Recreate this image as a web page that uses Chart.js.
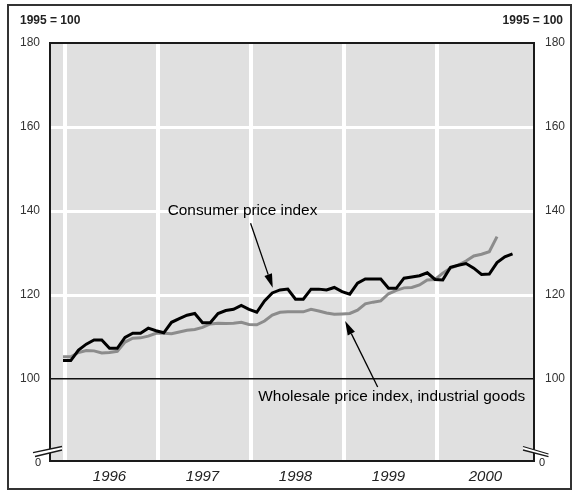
<!DOCTYPE html>
<html>
<head>
<meta charset="utf-8">
<script src="https://cdn.jsdelivr.net/npm/chart.js@4"></script>
<style>
  body { margin: 0; background: #fff; }
  canvas { display: block; }
</style>
</head>
<body>
<canvas id="myChart" width="575" height="491"></canvas>
<script>
// monthly index values, Jan 1996 onwards (1995 = 100)
const cpi = [104.4, 104.4, 106.9, 108.3, 109.3, 109.3, 107.3, 107.3, 109.9, 110.9,
  110.9, 112.1, 111.5, 111.0, 113.5, 114.4, 115.2, 115.6, 113.4, 113.4,
  115.6, 116.3, 116.6, 117.5, 116.6, 115.9, 118.6, 120.5, 121.2, 121.4,
  119.0, 119.0, 121.4, 121.4, 121.2, 121.8, 120.8, 120.2, 122.8, 123.8,
  123.8, 123.8, 121.6, 121.6, 124.0, 124.3, 124.6, 125.3, 123.7, 123.6,
  126.6, 127.1, 127.5, 126.4, 124.9, 125.0, 127.7, 129.1, 129.8]
const wpi = [105.3, 105.3, 106.3, 106.8, 106.7, 106.2, 106.3, 106.6, 108.8, 109.7,
  109.8, 110.2, 110.9, 110.9, 110.8, 111.2, 111.6, 111.8, 112.3, 113.1,
  113.3, 113.2, 113.3, 113.5, 113.0, 112.9, 113.8, 115.2, 115.9, 116.0,
  116.0, 116.0, 116.6, 116.2, 115.7, 115.4, 115.5, 115.6, 116.4, 117.9,
  118.3, 118.6, 120.3, 121.1, 121.7, 121.8, 122.4, 123.6, 123.7, 125.2,
  126.4, 127.1, 128.1, 129.3, 129.7, 130.3, 133.9]
const yearLabels = ['1996', '1997', '1998', '1999', '2000']
const yearStarts = [0, 12, 24, 36, 48]
const yTicks = [100, 120, 140, 160, 180]
const baseLabel = '1995 = 100'

const ctx = document.getElementById('myChart')
const FONT = "'Liberation Sans', Arial, Helvetica, sans-serif"
const xMin = -1.68, xMax = 60.77
const yMin = 80.48, yMax = 180

// labels with arrows, placed in data coordinates
const notes = [
  { text: 'Consumer price index', x: 13.5, y: 140, from: [24.2, 137.1], to: [27.06, 121.7] },
  { text: 'Wholesale price index, industrial goods', x: 25.2, y: 95.7, from: [40.6, 98.1], to: [36.4, 113.8] }
]

function arrow(c, x1, y1, x2, y2) {
    let ang = Math.atan2(y2 - y1, x2 - x1)
    let len = 14, w = 4
    let bx = x2 - len * Math.cos(ang), by = y2 - len * Math.sin(ang)
    c.beginPath()
    c.moveTo(x1, y1)
    c.lineTo(bx, by)
    c.stroke()
    c.beginPath()
    c.moveTo(x2, y2)
    c.lineTo(bx + w * Math.sin(ang), by - w * Math.cos(ang))
    c.lineTo(bx - w * Math.sin(ang), by + w * Math.cos(ang))
    c.closePath()
    c.fill()
}

const decor = {
    id: 'decor',
    beforeDraw(chart) {
        let c = chart.ctx, a = chart.chartArea
        c.save()
        c.fillStyle = '#fff'
        c.fillRect(0, 0, chart.width, chart.height)
        c.fillStyle = '#e0e0e0'
        c.fillRect(a.left, a.top, a.right - a.left, a.bottom - a.top)
        c.restore()
    },
    afterDraw(chart) {
        let c = chart.ctx, a = chart.chartArea
        let sx = chart.scales.x, sy = chart.scales.y
        c.save()
        // plot frame
        c.strokeStyle = '#1a1a1a'
        c.lineWidth = 2
        c.strokeRect(a.left, a.top, a.right - a.left, a.bottom - a.top)

        // axis breaks
        c.lineWidth = 1.3
        let b = a.bottom
        let breaks = [
            [[a.left - 17, b - 8.3], [a.left + 12, b - 14.5], [a.left + 12, b - 11], [a.left - 15, b - 4.5]],
            [[a.right - 11, b - 14.5], [a.right + 14.5, b - 7], [a.right + 14.5, b - 4.3], [a.right - 11, b - 11]]
        ]
        breaks.forEach(p => {
            c.fillStyle = '#fff'
            c.beginPath()
            c.moveTo(p[0][0], p[0][1])
            c.lineTo(p[1][0], p[1][1])
            c.lineTo(p[2][0], p[2][1])
            c.lineTo(p[3][0], p[3][1])
            c.closePath()
            c.fill()
            c.beginPath()
            c.moveTo(p[0][0], p[0][1]); c.lineTo(p[1][0], p[1][1])
            c.moveTo(p[3][0], p[3][1]); c.lineTo(p[2][0], p[2][1])
            c.stroke()
        })

        // zero labels at the broken axis
        c.fillStyle = '#222'
        c.font = '11px ' + FONT
        c.textBaseline = 'middle'
        c.textAlign = 'center'
        c.fillText('0', a.left - 12, b + 2)
        c.fillText('0', a.right + 8, b + 2)

        // unit labels
        c.font = 'bold 12px ' + FONT
        c.textAlign = 'left'
        c.fillText(baseLabel, 20, 21)
        c.textAlign = 'right'
        c.fillText(baseLabel, 563, 21)

        // annotations
        c.font = '15.4px ' + FONT
        c.textAlign = 'left'
        c.fillStyle = '#000'
        c.strokeStyle = '#000'
        c.lineWidth = 1.3
        notes.forEach(n => {
            c.fillText(n.text, sx.getPixelForValue(n.x), sy.getPixelForValue(n.y))
            arrow(c, sx.getPixelForValue(n.from[0]), sy.getPixelForValue(n.from[1]),
                sx.getPixelForValue(n.to[0]), sy.getPixelForValue(n.to[1]))
        })

        // outer frame
        c.strokeStyle = '#333'
        c.lineWidth = 2
        c.strokeRect(8, 5, 563, 484)
        c.restore()
    }
}

new Chart(ctx, {
    type: 'line',
    data: {
        datasets: [
            {
                label: 'Consumer price index',
                data: cpi.map((v, i) => ({ x: i, y: v })),
                borderColor: '#000',
                borderWidth: 3,
                pointRadius: 0,
                tension: 0,
                order: 0
            },
            {
                label: 'Wholesale price index, industrial goods',
                data: wpi.map((v, i) => ({ x: i, y: v })),
                borderColor: '#8c8c8c',
                borderWidth: 3,
                pointRadius: 0,
                tension: 0,
                order: 1
            }
        ]
    },
    options: {
        responsive: false,
        animation: false,
        devicePixelRatio: 1,
        layout: { padding: 0 },
        plugins: {
            legend: { display: false },
            tooltip: { enabled: false }
        },
        scales: {
            x: {
                type: 'linear',
                position: 'top',
                min: xMin,
                max: xMax,
                afterBuildTicks: axis => { axis.ticks = yearStarts.map(v => ({ value: v + 0.2 })) },
                afterFit: axis => { axis.height = 43 },
                ticks: { display: false },
                grid: { color: '#fff', lineWidth: 4, drawTicks: false },
                border: { display: false }
            },
            xYears: {
                type: 'linear',
                position: 'bottom',
                min: xMin,
                max: xMax,
                afterBuildTicks: axis => { axis.ticks = [6, 18, 30, 42, 54.5].map(v => ({ value: v })) },
                afterFit: axis => { axis.height = 30 },
                ticks: {
                    autoSkip: false,
                    maxRotation: 0,
                    padding: 7,
                    color: '#222',
                    font: { family: FONT, size: 15, style: 'italic' },
                    callback: (v, i) => yearLabels[i]
                },
                grid: { display: false, drawTicks: false },
                border: { display: false }
            },
            y: {
                position: 'left',
                min: yMin,
                max: yMax,
                afterBuildTicks: axis => { axis.ticks = yTicks.map(v => ({ value: v })) },
                afterFit: axis => { axis.width = 50 },
                ticks: {
                    padding: 10,
                    color: '#333',
                    font: { family: FONT, size: 12 }
                },
                grid: {
                    drawTicks: false,
                    color: c => c.tick.value === 100 ? '#111' : (c.tick.value === 180 ? 'rgba(0,0,0,0)' : '#fff'),
                    lineWidth: c => c.tick.value === 100 ? 1.5 : 3
                },
                border: { display: false }
            },
            y2: {
                position: 'right',
                min: yMin,
                max: yMax,
                afterBuildTicks: axis => { axis.ticks = yTicks.map(v => ({ value: v })) },
                afterFit: axis => { axis.width = 41 },
                ticks: {
                    padding: 11,
                    color: '#333',
                    font: { family: FONT, size: 12 }
                },
                grid: { display: false, drawTicks: false },
                border: { display: false }
            }
        }
    },
    plugins: [decor]
})
</script>
</body>
</html>
